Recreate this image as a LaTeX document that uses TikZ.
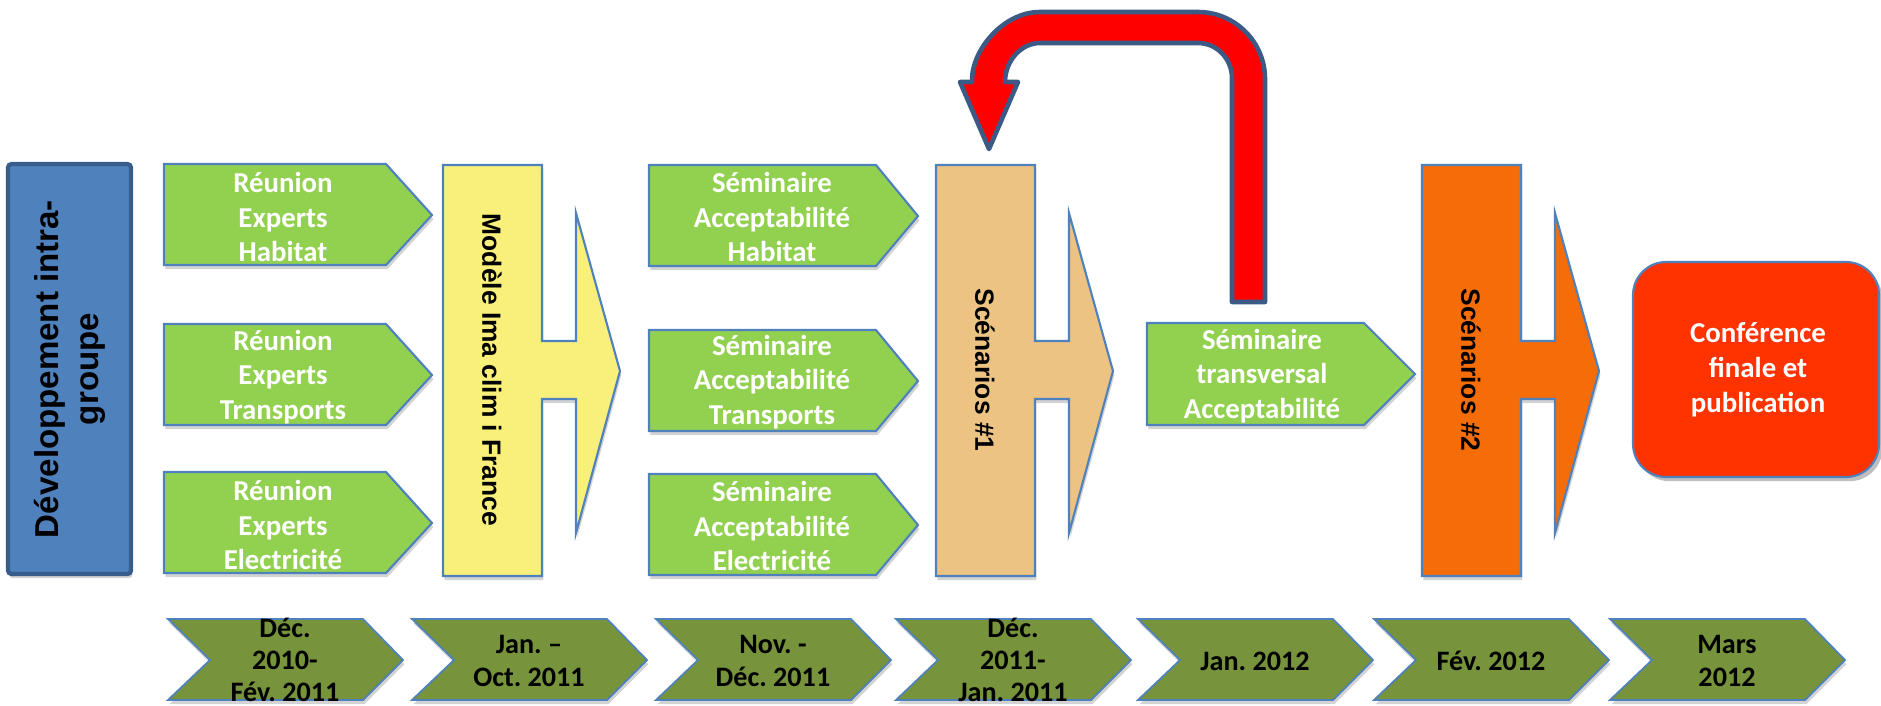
\documentclass[tikz,border=0pt]{standalone}
\usepackage{fontspec}
\setmainfont{Carlito}
\newfontfamily\barfont{Liberation Sans}
\usetikzlibrary{shadows}
\frenchspacing

\definecolor{leaf}{HTML}{92D050}
\definecolor{olive}{HTML}{77933C}
\definecolor{edge}{HTML}{4F81BD}
\definecolor{navy}{HTML}{385D8A}
\definecolor{lemon}{HTML}{F9F07C}
\definecolor{sand}{HTML}{EDC383}
\definecolor{tang}{HTML}{F46D08}
\definecolor{flame}{HTML}{FF3300}
\definecolor{loopred}{HTML}{FF0000}
\definecolor{loopedge}{HTML}{3C5A86}

\begin{document}
\begin{tikzpicture}[x=0.01cm, y=-0.01cm,
    soft/.style={drop shadow={shadow xshift=0.4pt, shadow yshift=-1.2pt, opacity=0.35}},
    task/.style={soft, fill=leaf, draw=edge, line width=0.6pt},
    chev/.style={soft, fill=olive, draw=edge, line width=0.5pt},
    bar/.style={soft, draw=edge, line width=0.6pt},
    lbl/.style={text=white, font=\bfseries\fontsize{8.2}{9.9}\selectfont, align=center},
    barlbl/.style={font=\barfont\bfseries\fontsize{7.5}{9}\selectfont, rotate=-90}]
    \useasboundingbox (0,0) rectangle (1881,705);

    % group box on the left
    \draw[soft, fill=edge, draw=navy, line width=1.2pt, rounded corners=1pt] (8,164) rectangle (131,574);
    \node[font=\barfont\bfseries\fontsize{9.4}{11.3}\selectfont, rotate=90, align=center] (dev) at (70,369) {Développement intra-\\groupe};

    % expert meetings
    \foreach \t/\name/\sub in {164/hab/Habitat, 324/tra/Transports, 472/ele/Electricité} {
        \draw[task] (164,\t) -- (386,\t) -- (432,\t+51) -- (386,\t+101) -- (164,\t+101) -- cycle;
        \node[lbl] (reu-\name) at (283,\t+53) {Réunion\\Experts\\\sub};
    }

    % acceptability seminars
    \foreach \t/\name/\sub in {165/hab/Habitat, 330/tra/Transports, 474/ele/Electricité} {
        \draw[task] (649,\t) -- (876,\t) -- (918,\t+51) -- (876,\t+101) -- (649,\t+101) -- cycle;
        \node[lbl] (sem-\name) at (772,\t+52) {Séminaire\\Acceptabilité\\\sub};
    }
    \draw[task] (1147,323) -- (1364,323) -- (1415,374) -- (1364,425) -- (1147,425) -- cycle;
    \node[lbl] (sem-trans) at (1262,376) {Séminaire\\transversal\\Acceptabilité};

    % bars with arrows
    \foreach \x/\c/\name/\txt in {443/lemon/modele/{Modèle Ima clim i France}, 936/sand/scen1/{Scénarios \#1}, 1422/tang/scen2/{Scénarios \#2}} {
        \draw[bar, fill=\c] (\x,165) -- ++(99,0) -- ++(0,176) -- ++(34,0) -- ++(0,-128) -- ++(44,158)
            -- ++(-44,162) -- ++(0,-134) -- ++(-34,0) -- ++(0,177) -- ++(-99,0) -- cycle;
        \node[barlbl] (\name) at (\x+49,370) {\txt};
    }

    % loop back arrow
    \draw[fill=loopred, draw=loopedge, line width=1.3pt, line join=round]
        (1232,302) -- (1265,302) -- (1265,79) .. controls (1265,42) and (1235,12) .. (1198,12)
        -- (1040,12) .. controls (1003,12) and (972,50) .. (972,80) -- (972,82) -- (960,82)
        -- (989,149) -- (1018,82) -- (1005,82) .. controls (1005,61) and (1021,43) .. (1040,43)
        -- (1198,43) .. controls (1217,43) and (1232,59) .. (1232,78) -- cycle;

    % final conference
    \draw[drop shadow={shadow xshift=1pt, shadow yshift=-1.2pt, opacity=0.5}, fill=flame, draw=edge, line width=0.6pt, rounded corners=0.33cm] (1633,262) rectangle (1879,477);
    \node[lbl] (conf) at (1758,370) {Conférence\\finale et\\publication};

    % time line
    \foreach \x/\name/\lead/\ty/\txt in {168/d1/9/660/{Déc.\\2010-\\Fév. 2011}, 412/d2/9.6/661/{Jan. –\\Oct. 2011}, 656/d3/9.6/661/{Nov. -\\Déc. 2011}, 896/d4/9/660/{Déc.\\2011-\\Jan. 2011}, 1138/d5/9.6/661/{Jan. 2012}, 1374/d6/9.6/661/{Fév. 2012}, 1610/d7/9.6/661/{Mars\\2012}} {
        \draw[chev] (\x,619) -- ++(195,0) -- ++(40,41) -- ++(-40,40) -- ++(-195,0) -- ++(42,-40) -- cycle;
        \node[font=\bfseries\fontsize{8}{\lead}\selectfont, align=center] (\name) at (\x+117,\ty) {\txt};
    }
\end{tikzpicture}
\end{document}
